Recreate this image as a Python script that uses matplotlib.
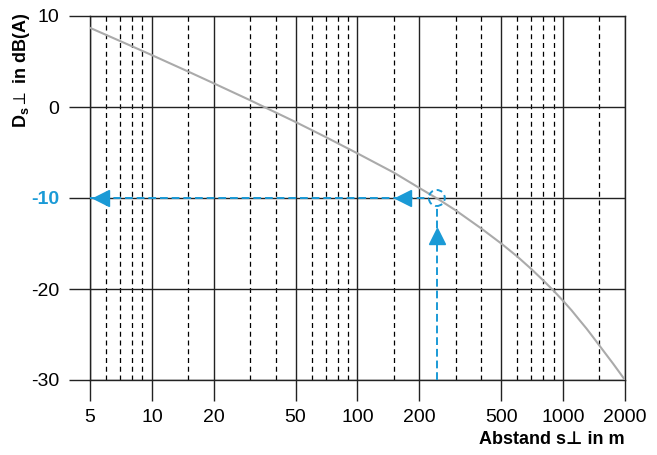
import numpy as np
import matplotlib
matplotlib.use("Agg")
import matplotlib.pyplot as plt
from matplotlib.patches import Circle
from matplotlib.transforms import Affine2D

plt.rcParams['font.family'] = ['Liberation Sans', 'DejaVu Sans']
plt.rcParams['mathtext.fontset'] = 'custom'
plt.rcParams['mathtext.rm'] = 'Liberation Sans'
plt.rcParams['mathtext.it'] = 'Liberation Sans:italic'
plt.rcParams['mathtext.bf'] = 'Liberation Sans:bold'
plt.rcParams['mathtext.fallback'] = 'stixsans'

# curve: distance s (m) vs. D_s (dB(A))
dist = [5, 7, 10, 15, 20, 30, 50, 70, 100, 150, 200, 250, 300, 400, 500, 600, 700, 800, 900,
        1000, 1100, 1200, 1300, 1400, 1500, 1750, 2000]
ds = [8.7, 7.25, 5.7, 3.9, 2.6, 0.75, -1.65, -3.3, -5.1, -7.2, -8.9, -10.2, -11.35, -13.35, -15.0,
      -16.45, -17.8, -19.05, -20.2, -21.3, -22.35, -23.4, -24.35, -25.3, -26.2, -28.2, -30.0]

# worked example
s_ex = 243
d_ex = -10
arrow_left_x = [5.65, 166]
arrow_up_y = -14.2

major_x = [5, 10, 20, 50, 100, 200, 500, 1000, 2000]
minor_x = [6, 7, 8, 9, 15, 30, 40, 60, 70, 80, 90, 150, 300, 400, 600, 700, 800, 900, 1500]
yticks = [-30, -20, -10, 0, 10]

blue = '#1a9ad6'

fig = plt.figure(figsize=(6.57, 4.55), dpi=100)
ax = fig.add_axes([90 / 657, 1 - 380 / 455, 535 / 657, 364 / 455])
ax.set_xscale('log')
ax.set_xlim(5, 2000)
ax.set_ylim(-30, 10)

for x in minor_x:
    ax.axvline(x, color='black', lw=0.9, ls=(0, (4, 3)), zorder=1)
for x in major_x:
    ax.axvline(x, color='#222222', lw=1.0, zorder=1)
for y in yticks:
    ax.axhline(y, color='#222222', lw=1.0, zorder=1)

ax.plot(dist, ds, color='#aaaaaa', lw=1.5, zorder=3)

# example lines, stopping at the dashed circle (radius 8 px)
r_px = 8
cx, cy = ax.transData.transform((s_ex, d_ex))
x_left_edge = ax.transData.inverted().transform((cx - r_px, cy))[0]
y_bottom_edge = ax.transData.inverted().transform((cx, cy - r_px))[1]
ax.plot([5, x_left_edge], [d_ex, d_ex], color=blue, lw=1.4, ls=(0, (4, 2)), zorder=4)
ax.plot([s_ex, s_ex], [-30, y_bottom_edge], color=blue, lw=1.4, ls=(0, (4, 2)), zorder=4)
circ = Circle((0, 0), r_px, fill=False, edgecolor=blue, lw=1.4, ls=(0, (3, 2)),
              transform=Affine2D().translate(cx, cy), zorder=7)
ax.add_artist(circ)
for x in arrow_left_x:
    ax.plot([x], [d_ex], marker='<', ms=11, color=blue, ls='none', zorder=8)
ax.plot([s_ex], [arrow_up_y], marker='^', ms=11, color=blue, ls='none', zorder=8)

ax.set_xticks(major_x)
ax.set_xticklabels([str(v) for v in major_x])
ax.minorticks_off()
ax.set_yticks(yticks)
ax.set_yticklabels([str(v) for v in yticks])
ax.tick_params(axis='both', length=15, width=1.0, color='#222222', labelsize=14)
ax.tick_params(axis='y', pad=7)
ax.tick_params(axis='x', pad=6)
for lbl in ax.get_yticklabels():
    if lbl.get_text() == '-10':
        lbl.set_color(blue)
        lbl.set_fontweight('bold')

for sp in ax.spines.values():
    sp.set_color('#222222')
    sp.set_linewidth(1.0)

fig.text(625 / 657, 1 - 440 / 455, 'Abstand s\u22a5 in m', ha='right', va='center',
         fontsize=13, fontweight='bold')
fig.text(22 / 657, 1 - 70 / 455, r'D$_\mathbf{s}\perp$ in dB(A)', ha='center', va='center',
         rotation=90, fontsize=13, fontweight='bold')

fig.savefig('out.png', dpi=100)
